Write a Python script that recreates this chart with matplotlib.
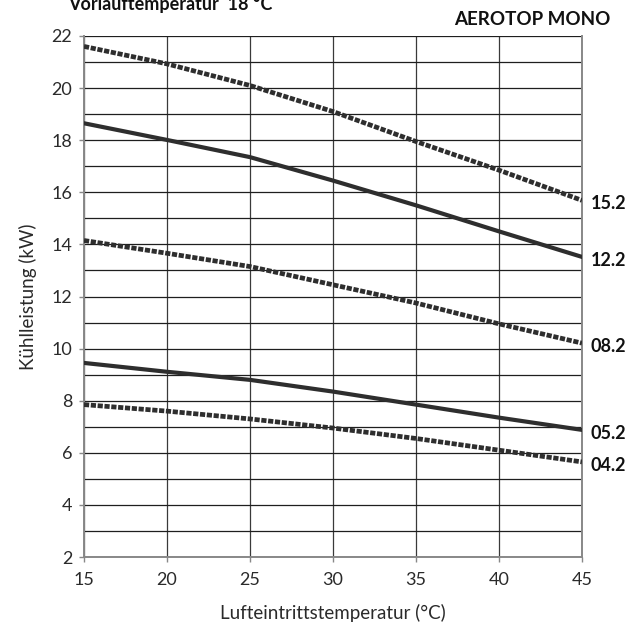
import matplotlib.pyplot as plt
import numpy as np

# Daten
lufttemp = [15, 20, 25, 30, 35, 40, 45]
modelle = ['15.2', '12.2', '08.2', '05.2', '04.2']
leistung_15_2 = [21.6, 20.93, 20.1, 19.1, 17.95, 16.85, 15.69]
leistung_12_2 = [18.65, 18.01, 17.35, 16.45, 15.5, 14.5, 13.52]
leistung_08_2 = [14.15, 13.66, 13.15, 12.45, 11.75, 10.95, 10.21]
leistung_05_2 = [9.45, 9.11, 8.8, 8.35, 7.85, 7.35, 6.88]
leistung_04_2 = [7.85, 7.6, 7.3, 6.95, 6.55, 6.1, 5.65]
y_ticks = [2, 4, 6, 8, 10, 12, 14, 16, 18, 20, 22]

plt.rcParams['font.family'] = ['Lato', 'DejaVu Sans']

fig = plt.figure(figsize=(6.43, 6.25), dpi=100)
ax = fig.add_axes([0.1306, 0.1088, 0.7745, 0.8336])

farbe = '#2e2e2e'
serien = [leistung_15_2, leistung_12_2, leistung_08_2, leistung_05_2, leistung_04_2]
gestrichelt = [True, False, True, False, True]

for name, werte, gs in zip(modelle, serien, gestrichelt):
    if gs:
        ax.plot(lufttemp, werte, color=farbe, lw=3.4, dashes=(1.1, 0.35),
                solid_capstyle='butt', zorder=3)
    else:
        ax.plot(lufttemp, werte, color=farbe, lw=3.0, zorder=3)
    ax.annotate(name, xy=(lufttemp[-1], werte[-1] - 0.12), xytext=(6, 0),
                textcoords='offset points', va='center', ha='left',
                fontsize=13, fontweight='bold', color='#111111',
                annotation_clip=False)

ax.set_xlim(15, 45)
ax.set_ylim(2, 22)
ax.set_xticks(lufttemp)
ax.set_yticks(y_ticks)
ax.set_yticks(np.arange(3, 22, 2), minor=True)
ax.grid(which='both', axis='y', color='#1e1e1e', lw=0.9, zorder=1)
ax.grid(which='major', axis='x', color='#3a3a3a', lw=0.9, zorder=1)
ax.tick_params(which='major', direction='out', length=3.5, width=1.0,
               colors='#888888', labelcolor='#2a2a2a', labelsize=13)
ax.tick_params(axis='x', pad=7)
ax.tick_params(axis='y', pad=5)
ax.tick_params(which='minor', length=0)
ax.spines['top'].set_visible(False)
for s in ['left', 'bottom', 'right']:
    ax.spines[s].set_color('#888888')
    ax.spines[s].set_linewidth(1.4)

ax.set_xlabel('Lufteintrittstemperatur (°C)', fontsize=13.5,
              color='#2a2a2a', labelpad=12)
ax.set_ylabel('Kühlleistung (kW)', fontsize=13.5,
              color='#2a2a2a', labelpad=10)

# Titel oben wie im Original teilweise angeschnitten
fig.text(0.106, 0.984, 'Vorlauftemperatur  18 °C', fontsize=13, fontweight='bold',
         color='#111111', va='baseline', ha='left')
fig.text(0.949, 0.96, 'AEROTOP MONO', fontsize=13.5, fontweight='bold',
         color='#111111', va='baseline', ha='right')

fig.savefig('out.png', dpi=100)
